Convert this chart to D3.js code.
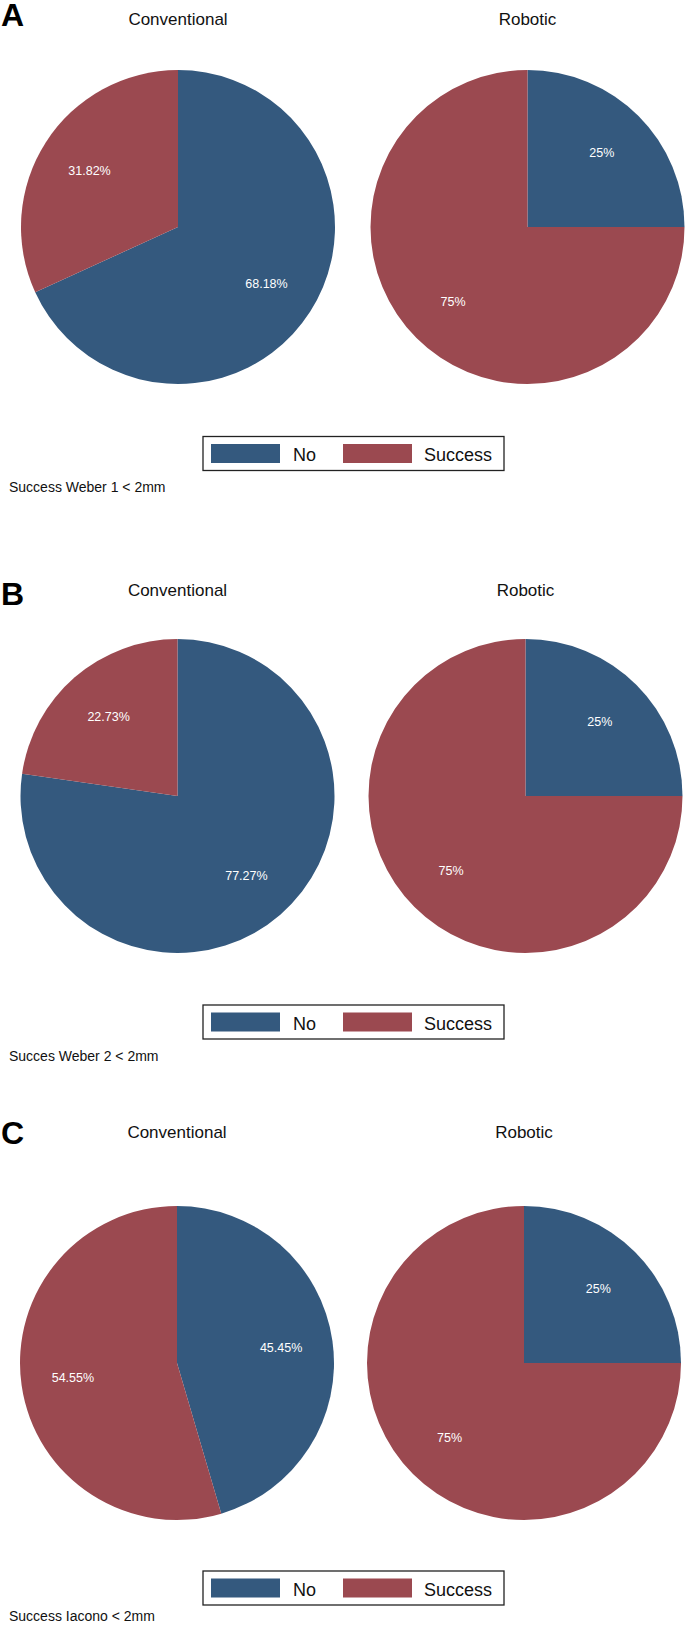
<!DOCTYPE html>
<html><head><meta charset="utf-8">
<script src="https://cdn.jsdelivr.net/npm/d3@7"></script>
<style>body{margin:0;background:#fff}svg{display:block}text{font-family:"Liberation Sans",Arial,sans-serif}</style>
</head><body>
<script>
const panelLetters = ["A", "B", "C"];
const groups = ["Conventional", "Robotic"];
const categories = ["No", "Success"];
const footnotes = ["Success Weber 1 < 2mm", "Succes Weber 2 < 2mm", "Success Iacono < 2mm"];
// percentages [No, Success] per panel, per group
const conventionalValues = [[68.18, 31.82], [77.27, 22.73], [45.45, 54.55]];
const roboticValues = [[25, 75], [25, 75], [25, 75]];
const conventionalLabels = [["68.18%", "31.82%"], ["77.27%", "22.73%"], ["45.45%", "54.55%"]];
const roboticLabels = [["25%", "75%"], ["25%", "75%"], ["25%", "75%"]];
const colors = ["#34597e", "#9b4950"];

const W = 685, H = 1627;
const svg = d3.select("body").append("svg").attr("width", W).attr("height", H);
const color = d3.scaleOrdinal().domain(categories).range(colors);
const pie = d3.pie().sort(null).value(d => d.v);
const R = 157;
const arc = d3.arc().innerRadius(0).outerRadius(R);
const labelArc = d3.arc().innerRadius(R * 0.67).outerRadius(R * 0.67);

// layout per panel (absolute y positions)
const layout = [
  {letterY: 26, titleY: 25, pieY: 227, pieX: [178, 527.5], legendY: 436.5, noteY: 492},
  {letterY: 605, titleY: 596, pieY: 796, pieX: [177.5, 525.5], legendY: 1005, noteY: 1061},
  {letterY: 1144, titleY: 1138, pieY: 1363, pieX: [177, 524], legendY: 1571, noteY: 1621}
];

panelLetters.forEach((L, p) => {
  const lay = layout[p];
  const g = svg.append("g");
  g.append("text").attr("x", 1).attr("y", lay.letterY).attr("font-size", 32).attr("font-weight", "bold")
    .attr("font-family", "'Open Sans','Liberation Sans',sans-serif").text(L);
  const vals = [conventionalValues[p], roboticValues[p]];
  const labs = [conventionalLabels[p], roboticLabels[p]];
  groups.forEach((grp, k) => {
    const cx = lay.pieX[k], cy = lay.pieY;
    g.append("text").attr("x", cx).attr("y", lay.titleY).attr("text-anchor", "middle")
      .attr("font-size", 17).attr("fill", "#111").text(grp);
    const data = categories.map((c, i) => ({c, v: vals[k][i], lab: labs[k][i]}));
    const arcs = pie(data);
    const pg = g.append("g").attr("transform", `translate(${cx},${cy})`);
    pg.selectAll("path").data(arcs).join("path").attr("d", arc).attr("fill", d => color(d.data.c));
    pg.selectAll("text").data(arcs).join("text")
      .attr("transform", d => `translate(${labelArc.centroid(d)})`)
      .attr("text-anchor", "middle").attr("dy", "0.35em")
      .attr("font-size", 12.5).attr("fill", "#fff").text(d => d.data.lab);
  });
  // legend
  const lx = 203, ly = lay.legendY, lw = 301, lh = 34;
  const lg = g.append("g");
  lg.append("rect").attr("x", lx).attr("y", ly).attr("width", lw).attr("height", lh)
    .attr("fill", "#fff").attr("stroke", "#222").attr("stroke-width", 1.3);
  const swX = [211, 343], txX = [293, 424];
  categories.forEach((c, i) => {
    lg.append("rect").attr("x", swX[i]).attr("y", ly + 7.5).attr("width", 69).attr("height", 19).attr("fill", color(c));
    lg.append("text").attr("x", txX[i]).attr("y", ly + 24.5).attr("font-size", 18).attr("fill", "#111").text(c);
  });
  g.append("text").attr("x", 9).attr("y", lay.noteY).attr("font-size", 14).attr("fill", "#111").text(footnotes[p]);
});
</script>
</body></html>
